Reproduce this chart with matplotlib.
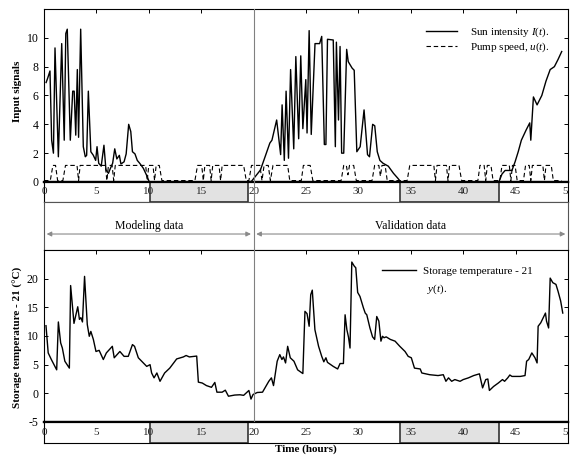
import matplotlib
matplotlib.use('Agg')
import matplotlib.pyplot as plt

plt.rcParams['font.family'] = 'Liberation Serif'
plt.rcParams['mathtext.fontset'] = 'custom'
plt.rcParams['mathtext.rm'] = 'Liberation Serif'
plt.rcParams['mathtext.it'] = 'Liberation Serif:italic'
plt.rcParams['axes.unicode_minus'] = False

# Sun intensity I(t)
sun_t = [0.2, 0.35, 0.57, 0.73, 0.9, 1.05, 1.37, 1.69, 1.93, 2.08, 2.22, 2.51, 2.74, 2.88,
         3.03, 3.18, 3.3, 3.5, 3.75, 3.94, 4.07, 4.23, 4.47, 4.71, 4.93, 5.06, 5.22, 5.46,
         5.72, 5.91, 6.15, 6.31, 6.55, 6.75, 6.95, 7.19, 7.34, 7.64, 7.84, 8.08, 8.28, 8.44,
         8.68, 8.9, 9.13, 9.48, 9.8, 10.05, 19.55, 19.8, 20.15, 20.65, 21.1, 21.55, 21.75,
         22.2, 22.58, 22.72, 22.93, 23.1, 23.33, 23.53, 23.83, 24.03, 24.3, 24.5, 24.7,
         24.98, 25.1, 25.3, 25.5, 25.86, 26.3, 26.5, 26.75, 26.9, 27.05, 27.6, 27.8, 27.9,
         28.1, 28.25, 28.4, 28.6, 28.88, 29.03, 29.4, 29.6, 29.85, 30.17, 30.54, 30.87,
         31.06, 31.36, 31.56, 31.8, 32.05, 32.35, 32.85, 33.35, 33.75, 34.05, 43.4, 43.7,
         44.0, 44.65, 44.95, 45.25, 45.55, 46.0, 46.35, 46.45, 46.7, 47.05, 47.5, 47.9,
         48.3, 48.7, 49.05, 49.4]
sun_i = [6.9, 7.2, 7.7, 2.9, 2.0, 9.3, 1.75, 9.6, 2.9, 10.3, 10.6, 2.9, 6.3, 6.3,
         3.25, 7.8, 3.1, 10.6, 2.45, 1.75, 1.85, 6.3, 2.1, 1.85, 1.5, 2.45, 1.3, 1.1,
         2.55, 0.85, 0.6, 0.9, 1.3, 2.3, 1.6, 1.85, 1.25, 1.4, 1.95, 4.0, 3.5, 2.1,
         1.95, 1.5, 1.3, 0.95, 0.45, 0.0, 0.0, 0.05, 0.37, 0.83, 1.76, 2.7, 2.9,
         4.3, 1.9, 5.35, 1.5, 6.3, 1.65, 7.8, 2.3, 8.7, 3.0, 8.75, 3.7,
         7.1, 3.4, 10.5, 3.3, 9.6, 9.6, 10.1, 2.6, 2.6, 9.9, 9.85, 2.45, 9.7,
         4.3, 9.4, 2.0, 2.0, 9.2, 8.35, 7.9, 7.75, 2.1, 2.45, 5.0, 1.9,
         1.75, 4.0, 3.9, 2.1, 1.5, 1.3, 1.1, 0.6, 0.27, 0.0, 0.0, 0.55,
         0.8, 0.8, 1.4, 2.1, 2.9, 3.6, 4.1, 2.9, 5.9, 5.35, 6.0, 7.0,
         7.8, 8.0, 8.5, 9.05]

# Pump speed u(t)
pump_t = [0.0, 0.6, 0.85, 1.1, 1.3, 1.8, 2.05, 3.15, 3.3, 3.45, 5.85, 6.0, 6.15, 6.5, 6.65,
          6.8, 9.7, 9.85, 10.0, 10.4, 10.55, 10.7, 11.0, 11.25, 14.4, 14.65, 15.05, 15.2,
          15.35, 15.8, 15.95, 16.1, 16.7, 16.85, 17.0, 19.05, 19.3, 19.55, 19.8, 20.6, 20.8,
          21.0, 21.4, 21.6, 21.85, 23.25, 23.45, 24.55, 24.75, 25.4, 25.65, 28.35, 28.6,
          28.85, 29.0, 29.15, 29.55, 29.8, 31.3, 31.55, 31.95, 32.1, 32.25, 32.55, 32.75,
          34.65, 34.9, 37.2, 37.35, 37.5, 38.4, 38.55, 38.7, 39.6, 39.85, 41.4, 41.6, 42.0,
          42.15, 42.3, 42.65, 42.85, 43.5, 43.7, 44.4, 44.55, 44.7, 44.95, 45.15, 45.75,
          45.95, 46.3, 46.45, 46.6, 47.6, 47.75, 47.9, 48.4, 48.6, 49.4]
pump_u = [0.1, 0.1, 1.15, 1.15, 0.1, 0.1, 1.15, 1.15, 0.1, 1.15, 1.15, 0.1, 1.15, 1.15, 0.1,
          1.15, 1.15, 0.1, 1.15, 1.15, 0.1, 1.15, 1.15, 0.1, 0.1, 1.15, 1.15, 0.1,
          1.15, 1.15, 0.1, 1.15, 1.15, 0.1, 1.15, 1.15, 0.1, 0.1, 1.15, 1.15, 0.1,
          1.15, 1.15, 0.1, 1.15, 1.15, 0.1, 0.1, 1.15, 1.15, 0.1, 0.1, 1.15,
          1.15, 0.5, 1.15, 1.15, 0.1, 0.1, 1.15, 1.15, 0.4, 1.15, 1.15, 0.1,
          0.1, 1.15, 1.15, 0.1, 1.15, 1.15, 0.1, 1.15, 1.15, 0.1, 0.1, 1.15, 1.15,
          0.1, 1.15, 1.15, 0.1, 0.1, 1.15, 1.15, 0.1, 1.15, 1.15, 0.1, 0.1,
          1.15, 1.15, 0.1, 1.15, 1.15, 0.1, 1.15, 1.15, 0.1, 0.1]

# Storage temperature - 21, y(t)
temp_t = [0.19, 0.4, 0.7, 1.21, 1.37, 1.59, 1.75, 1.99, 2.42, 2.54, 2.86, 3.22, 3.38, 3.52,
          3.67, 3.87, 4.13, 4.32, 4.47, 4.71, 4.96, 5.26, 5.66, 5.95, 6.52, 6.7, 7.24, 7.64,
          8.04, 8.44, 8.64, 9.0, 9.48, 9.8, 10.12, 10.27, 10.5, 10.77, 11.07, 11.51, 12.0,
          12.66, 13.3, 13.56, 13.87, 14.57, 14.73, 15.1, 15.5, 15.98, 16.3, 16.5, 17.0, 17.3,
          17.6, 18.2, 18.7, 19.05, 19.55, 19.75, 19.95, 20.35, 20.85, 21.45, 21.7, 21.9,
          22.25, 22.5, 22.7, 22.85, 23.05, 23.25, 23.5, 23.85, 24.2, 24.7, 24.9, 25.1, 25.3,
          25.45, 25.6, 25.85, 26.2, 26.5, 26.7, 26.9, 27.05, 27.6, 28.02, 28.25, 28.57, 28.73,
          28.9, 29.05, 29.2, 29.37, 29.6, 29.75, 29.93, 30.15, 30.48, 30.65, 30.8, 31.1,
          31.35, 31.55, 31.75, 31.95, 32.15, 32.3, 32.45, 32.65, 33.05, 33.5, 33.95, 34.45,
          34.75, 35.05, 35.35, 35.9, 36.05, 36.8, 37.6, 38.1, 38.35, 38.6, 38.9, 39.2, 39.7,
          40.0, 40.5, 41.0, 41.55, 41.85, 42.15, 42.35, 42.5, 42.9, 43.35, 43.75, 43.95,
          44.25, 44.45, 44.65, 45.45, 45.9, 46.05, 46.25, 46.55, 46.85, 47.05, 47.15, 47.4,
          47.85, 47.95, 48.15, 48.3, 48.55, 48.85, 49.05, 49.3, 49.5]
temp_y = [11.8, 7.05, 5.9, 4.1, 12.45, 8.8, 7.9, 5.6, 4.4, 18.8, 12.2, 15.1, 12.9, 13.2,
          12.45, 20.4, 12.0, 9.95, 10.8, 9.4, 7.3, 7.5, 5.9, 7.05, 8.2, 6.2, 7.3, 6.45,
          6.45, 8.5, 8.2, 6.2, 5.3, 4.7, 5.0, 3.55, 2.7, 3.55, 2.1, 3.55, 4.4,
          6.0, 6.35, 6.6, 6.35, 6.5, 1.95, 1.8, 1.35, 1.05, 1.9, 0.2, 0.2, 0.55,
          -0.5, -0.3, -0.25, -0.35, 0.5, -1.0, -0.2, 0.15, 0.2, 2.1, 2.7, 1.35,
          5.6, 6.75, 5.9, 6.35, 5.3, 8.2, 6.2, 5.6, 4.1, 3.45, 14.3, 13.9, 11.7,
          17.2, 18.0, 11.1, 8.2, 6.45, 5.5, 6.2, 5.4, 4.7, 4.25, 5.2, 5.2, 13.7,
          11.1, 9.85, 7.9, 22.9, 22.2, 21.9, 17.6, 16.9, 14.9, 14.0, 13.7, 11.4,
          9.85, 9.4, 13.4, 12.6, 9.1, 9.95, 9.7, 9.85, 9.4, 9.1, 8.2, 7.3,
          6.45, 6.2, 4.4, 4.25, 3.55, 3.25, 3.1, 3.25, 2.1, 2.7, 2.1, 2.4, 2.1,
          2.4, 2.7, 3.1, 3.4, 0.95, 2.4, 2.5, 0.5, 1.2, 1.8, 2.4, 2.1,
          2.7, 3.2, 2.95, 2.95, 3.1, 5.6, 5.9, 7.05, 6.2, 5.3, 11.7, 12.3,
          14.0, 12.6, 11.4, 20.1, 19.3, 19.0, 17.8, 16.1, 14.0]

night_spans = [(10.1, 19.5), (34.0, 43.4)]
time_ticks = [0, 5, 10, 15, 20, 25, 30, 35, 40, 45, 50]
input_ticks = [0, 2, 4, 6, 8, 10]
temp_ticks = [-5, 0, 5, 10, 15, 20]
data_sets = [('Modeling data', 0, 20), ('Validation data', 20, 50)]
split_time = 20

W_PX, H_PX = 571, 458
fig = plt.figure(figsize=(W_PX / 100, H_PX / 100), dpi=100)


def box(top, bottom):
    # axes rectangle from pixel rows (top, bottom)
    return [44 / W_PX, 1 - bottom / H_PX, 524 / W_PX, (bottom - top) / H_PX]


ax1 = fig.add_axes(box(9, 182))
strip1 = fig.add_axes(box(182, 202))
mid = fig.add_axes(box(202, 250))
ax2 = fig.add_axes(box(250, 422))
strip2 = fig.add_axes(box(422, 443))
overlay = fig.add_axes(box(9, 422))


def time_strip(ax):
    ax.set_xlim(0, 50)
    ax.set_ylim(0, 1)
    ax.set_xticks([])
    ax.set_yticks([])
    for a, b in night_spans:
        ax.axvspan(a, b, facecolor='#e2e2e2', edgecolor='#333333', lw=1.2)
    for t in time_ticks:
        # the last label sits on the frame edge and is cut there, as in the print
        ax.text(t, 0.5, str(t), ha='center', va='center', fontsize=8, color='#222222',
                clip_on=(t == time_ticks[-1]))
    for s in ax.spines.values():
        s.set_linewidth(0.8)
    ax.spines['top'].set_linewidth(1.6)
    ax.set_xlabel('Time (hours)', fontweight='bold', fontsize=8, labelpad=1)


def main_axes(ax):
    ax.set_xlim(0, 50)
    ax.set_xticks(time_ticks)
    ax.tick_params(direction='in', length=3, width=0.7, labelsize=8.5, pad=4,
                   right=True, top=True, bottom=False, labelbottom=False)
    for s in ax.spines.values():
        s.set_linewidth(0.8)
    ax.spines['bottom'].set_linewidth(1.6)


# Input signals
ax1.plot(sun_t, sun_i, color='black', lw=1.0, label=r'Sun intensity $I(t)$.')
ax1.plot(pump_t, pump_u, color='black', lw=0.8, dashes=(4, 2.5), label=r'Pump speed, $u(t)$.')
main_axes(ax1)
ax1.set_ylim(0, 12)
ax1.set_yticks(input_ticks)
ax1.set_ylabel('Input signals', fontweight='bold', fontsize=8, va='center')
ax1.yaxis.set_label_coords(-0.0515, 0.527)
ax1.legend(loc='upper left', bbox_to_anchor=(0.729, 0.905), frameon=False, fontsize=8,
           handlelength=2.8, handletextpad=1.2, labelspacing=0.15, borderpad=0, borderaxespad=0)

# Storage temperature
ax2.plot(temp_t, temp_y, color='black', lw=1.0, label='Storage temperature - 21')
main_axes(ax2)
ax2.set_ylim(-5, 25)
ax2.set_yticks(temp_ticks)
ax2.set_ylabel('Storage temperature - 21 (°C)', fontweight='bold', fontsize=8, va='center')
ax2.yaxis.set_label_coords(-0.0496, 0.494)
ax2.legend(loc='upper left', bbox_to_anchor=(0.645, 0.905), frameon=False, fontsize=8,
           handlelength=3.06, handletextpad=0.63, borderpad=0, borderaxespad=0)
ax2.text(0.731, 0.773, r'$y(t)$.', transform=ax2.transAxes, fontsize=8, va='center')

time_strip(strip1)
time_strip(strip2)

# modeling / validation arrows
mid.set_xlim(0, 50)
mid.set_ylim(0, 1)
mid.set_xticks([])
mid.set_yticks([])
for s in mid.spines.values():
    s.set_linewidth(0.8)
    s.set_color('#555555')
for name, a, b in data_sets:
    mid.annotate('', xy=(a + 0.25, 0.333), xytext=(b - 0.25, 0.333),
                 arrowprops=dict(arrowstyle='<|-|>', color='#8a8a8a', lw=0.8,
                                 mutation_scale=7, shrinkA=0, shrinkB=0))
    mid.text((a + b) / 2, 0.5, name, ha='center', va='center', fontsize=8.5)

overlay.set_xlim(0, 50)
overlay.axis('off')
overlay.axvline(split_time, color='#808080', lw=0.8)

fig.savefig('out.png', dpi=100)
